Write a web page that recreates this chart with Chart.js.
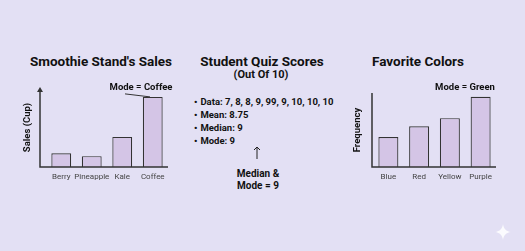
<!DOCTYPE html>
<html>
<head>
<meta charset="utf-8">
<script src="https://cdn.jsdelivr.net/npm/chart.js@4/dist/chart.umd.min.js"></script>
<style>
  html, body { margin: 0; padding: 0; }
  body { width: 525px; height: 251px; background: #e3e0f4; position: relative; overflow: hidden; font-family: Roboto, "Noto Sans", sans-serif; color: #111; }
  .t { position: absolute; white-space: nowrap; font-weight: bold; transform: translateX(-50%); text-align: center; }
  #left { position: absolute; left: 0; top: 0; }
  #right { position: absolute; left: 340px; top: 0; }
  ul { position: absolute; left: 194px; top: 95px; margin: 0; padding: 0; list-style: none; font-size: 9.5px; font-weight: bold; line-height: 13px; }
  ul li:before { content: "\2022"; margin-right: 3px; }
  #star { position: absolute; left: 495px; top: 224px; }
  #up { position: absolute; left: 253px; top: 146px; }
</style>
</head>
<body>
<div class="t" style="left:101px; top:53px; font-size:13.5px; line-height:16px;">Smoothie Stand's Sales</div>
<div class="t" style="left:262px; top:53px; font-size:13.5px; line-height:16px;">Student Quiz Scores</div>
<div class="t" style="left:261px; top:68px; font-size:11px; line-height:14px;">(Out Of 10)</div>
<div class="t" style="left:418px; top:53px; font-size:13.5px; line-height:16px;">Favorite Colors</div>

<ul>
  <li>Data: 7, 8, 8, 9, 99, 9, 10, 10, 10</li>
  <li>Mean: 8.75</li>
  <li>Median: 9</li>
  <li>Mode: 9</li>
</ul>
<svg id="up" width="8" height="13" viewBox="0 0 8 13">
  <path d="M4 1 L4 13 M1 4 L4 1 L7 4" stroke="#222" stroke-width="1" fill="none"/>
</svg>
<div class="t" style="left:258px; top:168px; font-size:10px; line-height:12px;">Median &amp;<br>Mode = 9</div>

<canvas id="left" width="180" height="251"></canvas>
<canvas id="right" width="185" height="251"></canvas>

<svg id="star" width="16" height="16" viewBox="0 0 16 16">
  <path d="M8 0 C8.8 5 11 7.2 16 8 C11 8.8 8.8 11 8 16 C7.2 11 5 8.8 0 8 C5 7.2 7.2 5 8 0 Z" fill="#ffffff" opacity="0.85"/>
</svg>

<script>
var smoothieLabels = ['Berry', 'Pineapple', 'Kale', 'Coffee'];
var smoothieSales = [2.8, 2.2, 6.1, 14.2];
var smoothieMax = 16;

var colorLabels = ['Blue', 'Red', 'Yellow', 'Purple'];
var colorCounts = [4.05, 5.5, 6.6, 9.5];
var colorMax = 10;

var barFill = '#d4c5e6';
var inkColor = '#333333';

// axes, category labels, axis title and the mode note, drawn from the chart's own scales
var sketchAxes = {
	id: 'sketchAxes',
	afterDraw: function(chart) {
		var o = chart.options.plugins.sketchAxes;
		var ctx = chart.ctx;
		var a = chart.chartArea;
		var xs = chart.scales.x, ys = chart.scales.y;
		var bars = chart.getDatasetMeta(0).data;
		var ax = a.left - o.gap;
		var y0 = ys.getPixelForValue(0);
		var yTop = ys.getPixelForValue(ys.max);
		ctx.save();
		ctx.strokeStyle = inkColor;
		ctx.fillStyle = inkColor;
		ctx.lineWidth = 1.5;
		ctx.beginPath();
		ctx.moveTo(ax, yTop + (o.arrow ? 3 : 0));
		ctx.lineTo(ax, y0);
		ctx.lineTo(a.right, y0);
		ctx.stroke();
		if (o.arrow) {
			ctx.beginPath();
			ctx.moveTo(ax, yTop - 1);
			ctx.lineTo(ax - 3, yTop + 4);
			ctx.lineTo(ax + 3, yTop + 4);
			ctx.closePath();
			ctx.fill();
		}
		ctx.fillStyle = '#444';
		ctx.font = '8px Roboto';
		ctx.textAlign = 'center';
		ctx.textBaseline = 'middle';
		chart.data.labels.forEach(function(l, i) {
			ctx.fillText(l, xs.getPixelForValue(i), y0 + 10);
		});
		ctx.fillStyle = '#111';
		ctx.font = 'bold 9.5px Roboto';
		ctx.save();
		ctx.translate(o.titleX, (yTop + y0) / 2);
		ctx.rotate(-Math.PI / 2);
		ctx.fillText(o.title, 0, 0);
		ctx.restore();

		var d = chart.data.datasets[0].data;
		var mi = d.indexOf(Math.max.apply(null, d));
		var bx = bars[mi].x;
		var by = bars[mi].y;
		ctx.font = 'bold 9.5px Roboto';
		ctx.fillText(o.note, o.noteX, by - 9);
		ctx.strokeStyle = inkColor;
		ctx.lineWidth = 1;
		ctx.beginPath();
		ctx.moveTo(o.lineFromX, by - 3);
		ctx.lineTo(o.lineToX !== undefined ? o.lineToX : bx, by);
		ctx.stroke();
		ctx.restore();
	}
};

function makeChart(id, labels, values, max, pad, axOpts) {
	return new Chart(document.getElementById(id), {
		type: 'bar',
		data: {
			labels: labels,
			datasets: [{
				data: values,
				backgroundColor: barFill,
				borderColor: inkColor,
				borderWidth: 1.2,
				barPercentage: 0.65,
				categoryPercentage: 1
			}]
		},
		options: {
			responsive: false,
			animation: false,
			layout: { padding: pad },
			scales: {
				x: { display: false },
				y: { display: false, min: 0, max: max }
			},
			plugins: {
				legend: { display: false },
				tooltip: { enabled: false },
				sketchAxes: axOpts
			}
		},
		plugins: [sketchAxes]
	});
}

makeChart('left', smoothieLabels, smoothieSales, smoothieMax,
	{ left: 46, right: 12, top: 88, bottom: 84 },
	{ gap: 6, arrow: true, title: 'Sales (Cup)', titleX: 28, note: 'Mode = Coffee', noteX: 141, lineFromX: 125, lineToX: 150 });

makeChart('right', colorLabels, colorCounts, colorMax,
	{ left: 33, right: 29, top: 93, bottom: 84 },
	{ gap: 1, arrow: false, title: 'Frequency', titleX: 18, note: 'Mode = Green', noteX: 125 });
</script>
</body>
</html>
